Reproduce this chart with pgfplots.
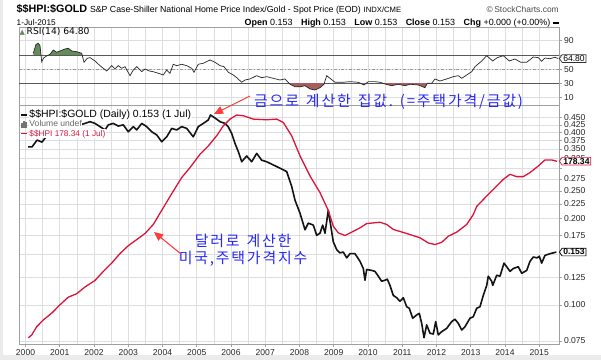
\documentclass[border=0pt]{standalone}
\usepackage{fontspec}
\setmainfont{Liberation Sans}
\newfontfamily\kr{Noto Sans CJK KR}
\newfontfamily\dejavu{DejaVu Sans}
\usepackage{pgfplots}
\usepackage{pgfplotstable}
\pgfplotsset{compat=1.18}
\usetikzlibrary{shapes.symbols,arrows.meta}

\definecolor{hpired}{RGB}{220,20,60}
\definecolor{gridc}{RGB}{222,222,222}
\definecolor{rsigreen}{RGB}{100,140,90}
\definecolor{rsired}{RGB}{165,95,95}
\definecolor{annblue}{RGB}{40,40,245}
\definecolor{arrred}{RGB}{255,60,60}
\definecolor{axisgray}{RGB}{160,160,160}

% letter-spaced text (spaces written as ~)
\def\spaced#1{\spacedA#1\relax}
\def\spacedA#1{\ifx#1\relax\else#1\kern1.8bp\expandafter\spacedA\fi}

\pgfplotstableread{
x y
2000.073 0.356
2000.190 0.356
2000.336 0.376
2000.482 0.370
2000.569 0.382
2000.715 0.395
2000.861 0.408
2001.007 0.405
2001.153 0.418
2001.299 0.411
2001.445 0.421
2001.591 0.425
2001.737 0.430
2001.883 0.436
2002.029 0.430
2002.175 0.419
2002.321 0.408
2002.418 0.425
2002.563 0.430
2002.709 0.421
2002.855 0.425
2003.001 0.402
2003.147 0.419
2003.247 0.408
2003.393 0.430
2003.539 0.419
2003.685 0.402
2003.831 0.392
2003.977 0.371
2004.123 0.386
2004.269 0.413
2004.415 0.408
2004.561 0.419
2004.707 0.413
2004.899 0.386
2005.045 0.419
2005.191 0.430
2005.337 0.442
2005.401 0.460
2005.533 0.449
2005.679 0.436
2005.825 0.430
2005.921 0.418
2006.020 0.397
2006.117 0.366
2006.213 0.343
2006.312 0.316
2006.458 0.331
2006.604 0.316
2006.750 0.338
2006.896 0.320
2007.042 0.316
2007.235 0.308
2007.431 0.300
2007.626 0.292
2007.772 0.259
2007.869 0.232
2008.015 0.209
2008.161 0.183
2008.257 0.193
2008.403 0.190
2008.502 0.175
2008.599 0.178
2008.677 0.190
2008.745 0.178
2008.841 0.214
2008.987 0.166
2009.086 0.156
2009.182 0.152
2009.279 0.153
2009.378 0.146
2009.474 0.151
2009.620 0.151
2009.766 0.142
2009.863 0.134
2009.912 0.122
2009.962 0.133
2010.108 0.132
2010.204 0.131
2010.301 0.126
2010.400 0.121
2010.496 0.122
2010.564 0.123
2010.642 0.117
2010.739 0.108
2010.838 0.106
2010.934 0.103
2011.031 0.106
2011.130 0.0986
2011.206 0.0974
2011.305 0.0899
2011.422 0.0923
2011.498 0.0935
2011.568 0.0863
2011.635 0.0769
2011.714 0.0852
2011.810 0.0797
2011.907 0.0792
2011.977 0.0875
2012.053 0.0786
2012.152 0.0807
2012.298 0.0829
2012.444 0.0875
2012.540 0.0892
2012.636 0.0863
2012.736 0.0818
2012.832 0.0840
2012.978 0.0899
2013.074 0.0910
2013.174 0.0974
2013.270 0.0986
2013.366 0.108
2013.466 0.117
2013.512 0.126
2013.612 0.121
2013.642 0.117
2013.758 0.127
2013.854 0.126
2013.971 0.140
2014.050 0.136
2014.146 0.131
2014.242 0.134
2014.388 0.136
2014.488 0.129
2014.634 0.132
2014.730 0.142
2014.826 0.147
2014.943 0.146
2015.001 0.148
2015.071 0.140
2015.168 0.149
2015.314 0.151
2015.410 0.152
2015.500 0.153
}\ratiodata

\pgfplotstableread{
x y
2000.082 100.1
2000.181 101.3
2000.327 105.0
2000.520 108.0
2000.765 111.0
2001.007 114.7
2001.250 118.1
2001.495 119.6
2001.737 122.6
2002.029 125.5
2002.272 129.5
2002.517 133.2
2002.759 137.4
2003.001 140.9
2003.247 143.6
2003.489 146.3
2003.731 150.3
2003.994 157.0
2004.315 165.1
2004.561 171.1
2004.803 175.5
2005.095 181.4
2005.337 185.1
2005.582 189.6
2005.775 194.0
2005.971 197.0
2006.166 198.8
2006.359 198.5
2006.651 197.0
2007.042 196.7
2007.334 197.0
2007.527 195.5
2007.772 189.6
2008.015 180.7
2008.307 171.8
2008.599 164.4
2008.841 156.5
2008.987 149.5
2009.133 146.6
2009.328 145.4
2009.524 146.9
2009.766 148.8
2009.962 150.7
2010.350 151.3
2010.546 150.3
2010.739 148.1
2011.130 146.3
2011.518 144.4
2011.761 142.1
2011.956 141.4
2012.152 142.4
2012.345 145.1
2012.590 146.9
2012.882 150.3
2013.074 154.7
2013.174 158.3
2013.466 162.9
2013.758 167.3
2013.950 170.3
2014.146 172.5
2014.342 171.5
2014.534 171.5
2014.730 173.3
2014.972 176.2
2015.168 178.9
2015.363 178.9
2015.518 178.3
}\hpidata

\pgfplotstableread{
x y
2000.228 72.3
2000.307 84.9
2000.374 86.3
2000.423 83.0
2000.473 60.4
2000.540 66.1
2000.619 68.5
2000.715 70.8
2000.812 76.9
2000.911 73.7
2001.007 75.5
2001.153 78.3
2001.250 79.3
2001.349 75.5
2001.495 74.5
2001.641 72.3
2001.708 59.6
2001.804 65.2
2001.883 66.1
2002.029 61.4
2002.175 54.8
2002.371 47.3
2002.517 54.8
2002.613 50.1
2002.709 54.8
2002.809 51.1
2002.905 53.4
2003.051 40.7
2003.147 48.7
2003.247 53.4
2003.393 46.3
2003.489 50.1
2003.615 47.3
2003.731 46.3
2003.877 44.1
2004.023 41.7
2004.123 48.7
2004.219 44.1
2004.315 56.8
2004.415 54.8
2004.561 56.8
2004.707 54.8
2004.853 51.1
2004.920 45.5
2005.045 56.8
2005.191 58.2
2005.387 62.8
2005.533 59.6
2005.679 54.8
2005.796 53.4
2005.921 45.5
2006.067 41.7
2006.166 37.9
2006.312 31.4
2006.409 34.6
2006.555 36.1
2006.750 40.7
2006.896 37.9
2007.042 39.3
2007.235 37.0
2007.431 34.6
2007.577 36.1
2007.723 28.6
2007.869 25.2
2008.015 25.0
2008.161 26.6
2008.307 22.0
2008.453 20.6
2008.599 23.8
2008.715 28.6
2008.794 40.7
2008.891 37.0
2009.036 31.4
2009.279 31.4
2009.474 32.3
2009.717 31.4
2009.883 27.6
2010.009 32.3
2010.204 32.3
2010.350 31.4
2010.526 28.6
2010.692 26.6
2010.885 28.6
2011.080 26.6
2011.226 28.6
2011.469 27.6
2011.664 23.8
2011.731 30.0
2011.860 30.0
2011.956 36.1
2012.102 33.2
2012.298 36.1
2012.490 39.3
2012.636 40.7
2012.736 37.0
2012.882 41.7
2013.028 46.3
2013.124 53.4
2013.320 61.4
2013.466 68.9
2013.641 61.4
2013.775 66.1
2013.950 68.9
2014.126 61.4
2014.292 64.2
2014.458 59.6
2014.634 59.6
2014.826 67.0
2014.972 66.1
2015.071 61.0
2015.168 65.6
2015.314 64.6
2015.460 66.6
2015.556 64.8
}\rsidata

\tikzset{
  valbox/.style={signal, signal to=west, signal pointer angle=110, draw=#1, fill=white, line width=0.7bp,
    inner sep=0.8bp, inner xsep=1.2bp, font=\fontsize{8.6}{9}\selectfont\bfseries, text=black, anchor=west},
}
\pgfplotsset{
  panel/.style={
    scale only axis, width=540bp,
    xmin=1999.81, xmax=2015.577,
    xtick={2000,2001,2002,2003,2004,2005,2006,2007,2008,2009,2010,2011,2012,2013,2014,2015},
    minor x tick num=1,
    xmajorgrids=true, xminorgrids=true, ymajorgrids=true, yminorgrids=false,
    major grid style={gridc, line width=0.6bp},
    minor grid style={gridc, line width=0.6bp},
    axis line style={axisgray, line width=0.6bp},
    tick style={axisgray, line width=0.6bp},
    tick align=outside, major tick length=3bp, minor tick length=0bp,
    ytick pos=right, yticklabel pos=right, xtick pos=bottom,
    ticklabel style={font=\fontsize{8.6}{9}\selectfont, text=black!85},
    yticklabel style={xshift=-1.5bp},
    xticklabel style={yshift=1bp},
    clip mode=individual,
  },
  overlay/.style={scale only axis, width=540bp, xmin=1999.81, xmax=2015.577, hide axis, anchor=south west},
}

\begin{document}
\begin{tikzpicture}
\fill[white] (0bp,0bp) rectangle (601bp,360bp);
\fill[black!8] (0bp,0bp) rectangle (601bp,5bp);
\fill[black!8] (0bp,0bp) rectangle (3bp,360bp);

% ---------- RSI panel: frame, grid, reference levels ----------
\begin{axis}[panel, at={(19bp,255bp)}, anchor=south west, height=77.3bp,
  ymin=-0.6, ymax=108.3,
  ytick={10,30,50,70,90}, yticklabels={10,30,50,{},90},
  xticklabels={}, xtick style={draw=none}]
  \addplot[black!65, line width=0.7bp] coordinates {(1999.81,70) (2015.577,70)};
  \addplot[black!65, line width=0.7bp] coordinates {(1999.81,30) (2015.577,30)};
  \addplot[black!40, line width=0.7bp, dash dot] coordinates {(1999.81,50) (2015.577,50)};
\end{axis}
% overbought fill (RSI above 70), clipped to the band 70..108.3
\begin{axis}[overlay, at={(19bp,305.11bp)}, height=27.19bp, ymin=70, ymax=108.3]
  \addplot[fill=rsigreen, draw=none] table {\rsidata} -- (axis cs:2015.556,-10) -- (axis cs:2000.228,-10) -- cycle;
\end{axis}
% oversold fill (RSI below 30), clipped to the band -0.6..30
\begin{axis}[overlay, at={(19bp,255bp)}, height=21.72bp, ymin=-0.6, ymax=30]
  \addplot[fill=rsired, draw=none] table {\rsidata} -- (axis cs:2015.556,150) -- (axis cs:2000.228,150) -- cycle;
\end{axis}
% RSI line on top
\begin{axis}[overlay, at={(19bp,255bp)}, height=77.3bp, ymin=-0.6, ymax=108.3, clip mode=individual]
  \addplot[black!85, line width=0.7bp] table {\rsidata};
  \node[valbox=black!80, font=\fontsize{8.6}{9}\selectfont] at (axis cs:2015.577,64.8) {64.80};
\end{axis}

% ---------- Main panel: HPI / Gold (log scale) ----------
\begin{axis}[panel, at={(19bp,16bp)}, anchor=south west, height=239bp,
  ymode=log, ymin=0.0731, ymax=0.4985,
  ytick={0.075,0.1,0.125,0.15,0.175,0.2,0.225,0.25,0.275,0.3,0.325,0.35,0.375,0.4,0.425,0.45},
  yticklabels={0.075,0.100,0.125,{},0.175,0.200,0.225,0.250,0.275,{},0.325,0.350,0.375,0.400,0.425,0.450},
  xticklabels={2000,2001,2002,2003,2004,2005,2006,2007,2008,2009,2010,2011,2012,2013,2014,2015}]
  \addplot[black!92, line width=1.6bp, line join=round] table {\ratiodata};
  \node[valbox=black] at (axis cs:2015.577,0.153) {0.153};
\end{axis}

% ---------- Overlay: $HPI (own hidden scale) + legend ----------
\begin{axis}[overlay, at={(19bp,16bp)}, height=239bp, ymin=97.33, ymax=203.25, clip mode=individual,
  legend image code/.code={\draw[#1] (0bp,0bp) -- (6bp,0bp);},
  legend cell align=left,
  legend style={at={(0,1)}, anchor=north west, xshift=1bp, yshift=-5.3bp, draw=none, fill=none,
    row sep=0bp, inner sep=0bp, column sep=1.5bp,
    nodes={fill=white, inner sep=0.4bp, text height=6.8bp, text depth=1.6bp}}]
  \addlegendimage{black!92, line width=1.4bp}
  \addlegendimage{legend image code/.code={
      \fill[black!55] (0bp,-2.5bp) rectangle (1.3bp,1bp);
      \fill[black!55] (2bp,-2.5bp) rectangle (3.3bp,3bp);
      \fill[black!55] (4bp,-2.5bp) rectangle (5.3bp,1.8bp);}}
  \addplot[hpired, line width=1.3bp, line join=round] table {\hpidata};
  \legend{{\fontsize{10.5}{10}\selectfont\textcolor{black}{\$\$HPI:\$GOLD (Daily) 0.153 (1 Jul)}},
          {\fontsize{8.6}{9}\selectfont\textcolor{black!60}{Volume undef}},
          {\fontsize{8.3}{9}\selectfont\textcolor{hpired}{\$\$HPI 178.34 (1 Jul)}}}
  \node[valbox=hpired] at (axis cs:2015.577,178.34) {178.34};
\end{axis}

% ---------- Header ----------
\node[anchor=base west, inner sep=0] at (16.5bp,347.5bp)
  {{\fontsize{10.8}{12}\selectfont\bfseries \$\$HPI:\$GOLD}\ {\fontsize{8.8}{9}\selectfont S\&P Case-Shiller National Home Price Index/Gold - Spot Price (EOD)} {\fontsize{7.7}{8}\selectfont INDX/CME}};
\node[anchor=base east, inner sep=0, text=black!70] at (559bp,347.5bp)
  {\fontsize{8.5}{9}\selectfont \textcopyright\,StockCharts.com};
\node[anchor=base west, inner sep=0] at (16.5bp,334bp)
  {\fontsize{8.3}{9}\selectfont 1-Jul-2015};
\node[anchor=base east, inner sep=0] at (559bp,334bp)
  {\fontsize{9}{9}\selectfont \textbf{Open} 0.153\hspace{6bp} \textbf{High} 0.153\hspace{6bp} \textbf{Low} 0.153\hspace{6bp} \textbf{Close} 0.153\hspace{6bp} \textbf{Chg} +0.000 (+0.00\%) \rule[2.3bp]{6bp}{1.3bp}};

% RSI label
\node[anchor=west, inner sep=0] at (19.5bp,328.3bp)
  {{\dejavu\fontsize{7}{7}\selectfont\textcolor{rsigreen}{▲}}\,{\dejavu\fontsize{9.2}{9}\selectfont RSI(14) 64.80}};

% ---------- Annotations ----------
\node[anchor=west, inner sep=0, text=annblue, font=\kr\fontsize{15}{16}\selectfont] at (254bp,258bp)
  {\spaced{금으로~계산한~집값.~(=주택가격/금값)}};
\draw[arrred, line width=1.1bp, -{Triangle[length=9bp,width=8bp]}] (250bp,264bp) -- (214bp,246bp);

\node[align=center, inner sep=0, text=annblue, font=\kr\fontsize{15}{17.3}\selectfont] at (244bp,110bp)
  {\spaced{달러로~계산한}\\\spaced{미국,주택가격지수}};
\draw[arrred, line width=1.1bp, -{Triangle[length=9bp,width=8bp]}] (181bp,106bp) -- (154bp,128bp);
\end{tikzpicture}
\end{document}
